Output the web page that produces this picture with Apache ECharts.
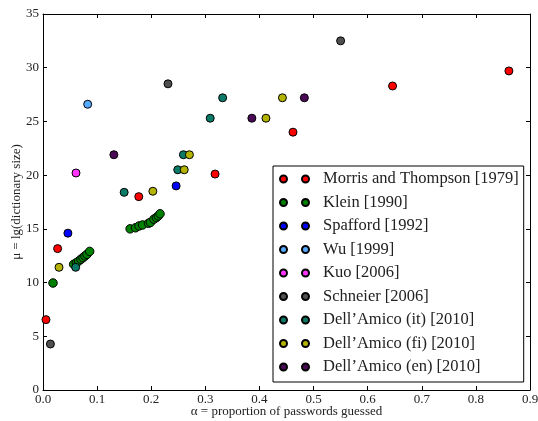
<!DOCTYPE html>
<html>
<head>
<meta charset="utf-8">
<script src="https://cdn.jsdelivr.net/npm/echarts@6/dist/echarts.min.js"></script>
<style>
html,body{margin:0;padding:0;background:#fff;}
#c{width:538px;height:421px;}
</style>
</head>
<body>
<div id="c"></div>
<script>
const seriesNames = ['Morris and Thompson [1979]','Klein [1990]','Spafford [1992]','Wu [1999]','Kuo [2006]','Schneier [2006]','Dell\u2019Amico (it) [2010]','Dell\u2019Amico (fi) [2010]','Dell\u2019Amico (en) [2010]'];
const seriesColors = ['#ff0000','#008000','#0000ff','#55aaff','#ff33ff','#505050','#0b7a66','#b3b300','#4a0a55'];

const morris = [[0.0055,6.55],[0.027,13.16],[0.177,18.0],[0.318,20.1],[0.462,24.0],[0.646,28.3],[0.861,29.7]];
const klein = [[0.0185,9.96],
  [0.0567,11.7],[0.0617,11.85],[0.066,12.0],[0.0702,12.17],[0.0739,12.32],[0.0776,12.48],[0.0813,12.63],[0.0863,12.9],
  [0.161,15.0],[0.171,15.1],[0.1775,15.27],[0.184,15.36],[0.195,15.52],[0.1985,15.6],[0.205,15.9],[0.2095,16.05],[0.213,16.2],[0.2163,16.4]];
const spafford = [[0.046,14.6],[0.246,19.0]];
const wu = [[0.0826,26.6]];
const kuo = [[0.061,20.2]];
const schneier = [[0.0137,4.28],[0.231,28.5],[0.550,32.5]];
const dellIt = [[0.0604,11.42],[0.150,18.4],[0.249,20.5],[0.2595,21.9],[0.309,25.3],[0.332,27.2]];
const dellFi = [[0.0296,11.42],[0.203,18.5],[0.261,20.5],[0.2706,21.9],[0.412,25.3],[0.4425,27.2]];
const dellEn = [[0.131,21.9],[0.386,25.3],[0.483,27.2]];
const allData = [morris, klein, spafford, wu, kuo, schneier, dellIt, dellFi, dellEn];

const xTickLabels = ['0.0','0.1','0.2','0.3','0.4','0.5','0.6','0.7','0.8','0.9'];
const yTickLabels = ['0','5','10','15','20','25','30','35'];

const FONT = 'Liberation Serif';
const chart = echarts.init(document.getElementById('c'));

const twoDots = 'path://M0,3.5a3.5,3.5 0 1,0 7,0a3.5,3.5 0 1,0 -7,0zM22,3.5a3.5,3.5 0 1,0 7,0a3.5,3.5 0 1,0 -7,0z';

const axisCommon = {
  axisLine:{show:true,onZero:false,lineStyle:{color:'#000',width:1}},
  axisTick:{show:true,inside:true,length:4,lineStyle:{color:'#000',width:1}},
  splitLine:{show:false}
};

chart.setOption({
  animation:false,
  backgroundColor:'#fff',
  grid:{left:43,right:8,top:14,bottom:31,containLabel:false,outerBoundsMode:'none'},
  xAxis:[
    Object.assign({type:'value',min:0,max:0.9,interval:0.1,position:'bottom',
      name:'\u03b1 = proportion of passwords guessed',nameLocation:'middle',nameGap:15,nameMoveOverlap:false,
      nameTextStyle:{fontFamily:FONT,fontSize:13,color:'#222',verticalAlign:'top'},
      axisLabel:{fontFamily:FONT,fontSize:13,color:'#222',margin:3,
        formatter:(v)=>xTickLabels[Math.round(v*10)]}},axisCommon),
    Object.assign({type:'value',min:0,max:0.9,interval:0.1,position:'top',axisLabel:{show:false}},axisCommon)
  ],
  yAxis:[
    Object.assign({type:'value',min:0,max:35,interval:5,position:'left',
      name:'\u03bc = lg(dictionary size)',nameLocation:'middle',nameGap:20,nameMoveOverlap:false,
      nameTextStyle:{fontFamily:FONT,fontSize:13,color:'#222'},
      axisLabel:{fontFamily:FONT,fontSize:13,color:'#222',margin:4,
        formatter:(v)=>yTickLabels[Math.round(v/5)]}},axisCommon),
    Object.assign({type:'value',min:0,max:35,interval:5,position:'right',axisLabel:{show:false}},axisCommon)
  ],
  legend:{
    orient:'vertical',left:273,top:166,
    padding:[4,5,6,6],
    itemWidth:29,itemHeight:7,itemGap:5.5,
    icon:twoDots,
    borderColor:'#000',borderWidth:1,backgroundColor:'#fff',
    textStyle:{fontFamily:FONT,fontSize:16.5,color:'#222',lineHeight:18,padding:[0,0,0,9]},
    data:seriesNames
  },
  series: seriesNames.map((n,i)=>({
    name:n,type:'scatter',xAxisIndex:0,yAxisIndex:0,
    data:allData[i],
    symbol:'circle',symbolSize: i===1 ? 8.5 : 8,
    itemStyle:{color:seriesColors[i],borderColor:'#000',borderWidth:1,opacity:1},
    emphasis:{disabled:true}
  }))
});
</script>
</body>
</html>
